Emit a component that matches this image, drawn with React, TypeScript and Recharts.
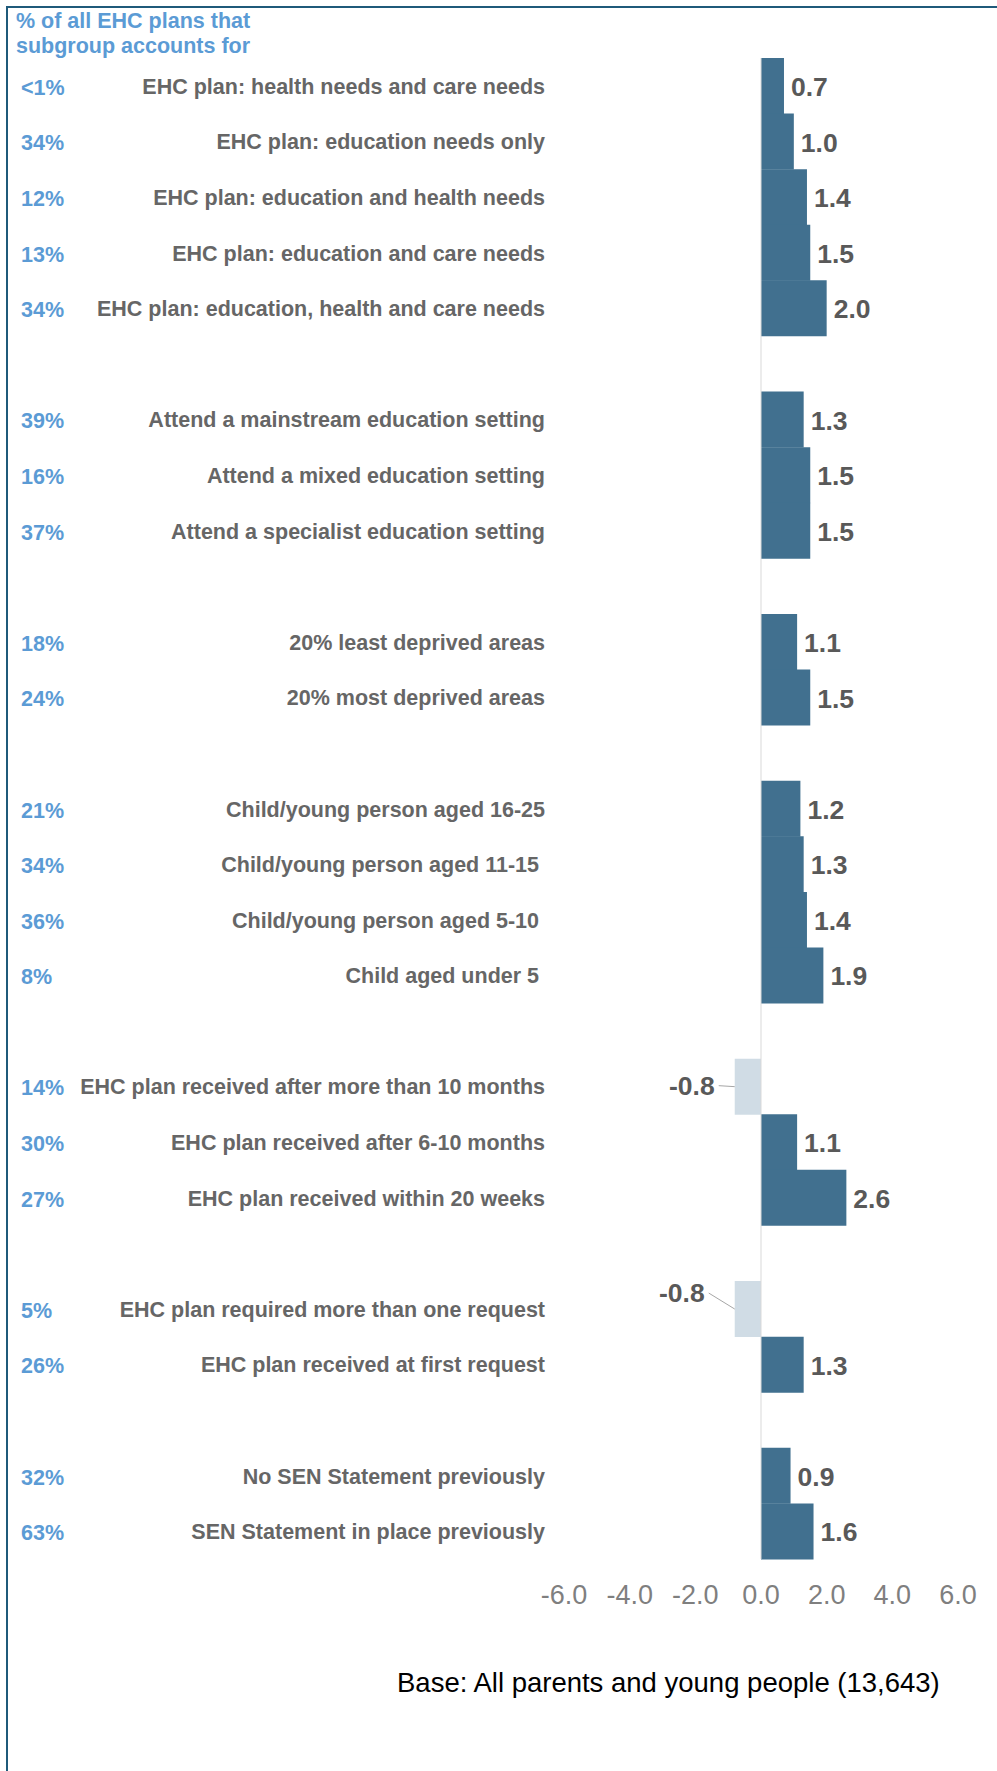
import { BarChart, Bar, XAxis, YAxis, Cell, LabelList, ReferenceLine } from "recharts";

// "" marks an empty spacer row between groups
const categories = [
  "EHC plan: health needs and care needs",
  "EHC plan: education needs only",
  "EHC plan: education and health needs",
  "EHC plan: education and care needs",
  "EHC plan: education, health and care needs",
  "",
  "Attend a mainstream education setting",
  "Attend a mixed education setting",
  "Attend a specialist education setting",
  "",
  "20% least deprived areas",
  "20% most deprived areas",
  "",
  "Child/young person aged 16-25",
  "Child/young person aged 11-15\u00A0",
  "Child/young person aged 5-10\u00A0",
  "Child aged under 5\u00A0",
  "",
  "EHC plan received after more than 10 months",
  "EHC plan received after 6-10 months",
  "EHC plan received within 20 weeks",
  "",
  "EHC plan required more than one request",
  "EHC plan received at first request",
  "",
  "No SEN Statement previously",
  "SEN Statement in place previously",
];

const shares = [
  "<1%", "34%", "12%", "13%", "34%", "",
  "39%", "16%", "37%", "",
  "18%", "24%", "",
  "21%", "34%", "36%", "8%", "",
  "14%", "30%", "27%", "",
  "5%", "26%", "",
  "32%", "63%",
];

const scores = [
  0.7, 1.0, 1.4, 1.5, 2.0, null,
  1.3, 1.5, 1.5, null,
  1.1, 1.5, null,
  1.2, 1.3, 1.4, 1.9, null,
  -0.8, 1.1, 2.6, null,
  -0.8, 1.3, null,
  0.9, 1.6,
];

const xTicks = [-6, -4, -2, 0, 2, 4, 6];

const data = categories.map((name, i) => ({
  id: `row${i}`,
  name,
  share: shares[i],
  score: scores[i],
}));

const FONT = "'Liberation Sans', Arial, sans-serif";
const BLUE = "#5b9bd5";

function CategoryTick({ y, payload }: any) {
  const row = data.find((d) => d.id === payload.value);
  if (!row || !row.name) return null;
  return (
    <g fontFamily={FONT} fontWeight="bold" fontSize={21.5}>
      <text x={21} y={y + 2} dominantBaseline="central" fill={BLUE}>
        {row.share}
      </text>
      <text x={545} y={y + 1} dominantBaseline="central" textAnchor="end" fill="#666666" style={{ whiteSpace: "pre" }}>
        {row.name}
      </text>
    </g>
  );
}

function ValueLabel(props: any) {
  const { x, y, width, height, value } = props;
  if (value === null || value === undefined) return null;
  const left = Math.min(x, x + width);
  const right = Math.max(x, x + width);
  const cy = y + height / 2;
  const style = { fontFamily: FONT, fontWeight: "bold", fontSize: 26.5, fill: "#595959" } as const;
  if (value >= 0) {
    return (
      <text x={right + 7} y={cy + 1} dominantBaseline="central" style={style}>
        {value.toFixed(1)}
      </text>
    );
  }
  // negative labels sit to the left with a small leader line; the lower one is lifted
  const lifted = y > 1200;
  const tx = left - (lifted ? 30 : 20);
  const ty = lifted ? cy - 16 : cy - 1;
  return (
    <g>
      <line x1={tx + 4} y1={ty} x2={left} y2={cy} stroke="#a6a6a6" strokeWidth={1} />
      <text x={tx} y={ty} dominantBaseline="central" textAnchor="end" style={style}>
        {value.toFixed(1)}
      </text>
    </g>
  );
}

export default function App() {
  return (
    <div style={{ position: "absolute", left: 0, top: 0, width: 997, height: 1771, background: "#fff", fontFamily: FONT }}>
      <div style={{ position: "absolute", left: 6, top: 6, width: 991, height: 1765, borderTop: "2px solid #1f5a7a", borderLeft: "2px solid #1f5a7a" }} />
      <div style={{ position: "absolute", left: 16, top: 9, color: BLUE, fontWeight: "bold", fontSize: 21.5, lineHeight: "25px" }}>
        % of all EHC plans that
        <br />
        subgroup accounts for
      </div>
      <BarChart
        width={997}
        height={1771}
        data={data}
        layout="vertical"
        barCategoryGap={0}
        margin={{ top: 58, right: 39, left: 0, bottom: 152 }}
      >
        <XAxis
          type="number"
          domain={[-6, 6]}
          ticks={xTicks}
          tickFormatter={(v: number) => v.toFixed(1)}
          axisLine={false}
          tickLine={false}
          tickMargin={20}
          height={60}
          tick={{ fill: "#7f7f7f", fontSize: 27, fontFamily: FONT }}
        />
        <YAxis
          type="category"
          dataKey="id"
          width={564}
          axisLine={false}
          tickLine={false}
          interval={0}
          tick={<CategoryTick />}
        />
        <ReferenceLine x={0} stroke="#d9d9d9" strokeWidth={1} />
        <Bar dataKey="score" isAnimationActive={false}>
          {data.map((d) => (
            <Cell key={d.id} fill={d.score !== null && d.score < 0 ? "#d0dce5" : "#41708f"} />
          ))}
          <LabelList dataKey="score" content={<ValueLabel />} />
        </Bar>
      </BarChart>
      <div style={{ position: "absolute", left: 397, top: 1667, fontSize: 27.5, color: "#000", whiteSpace: "nowrap" }}>
        Base: All parents and young people (13,643)
      </div>
    </div>
  );
}
